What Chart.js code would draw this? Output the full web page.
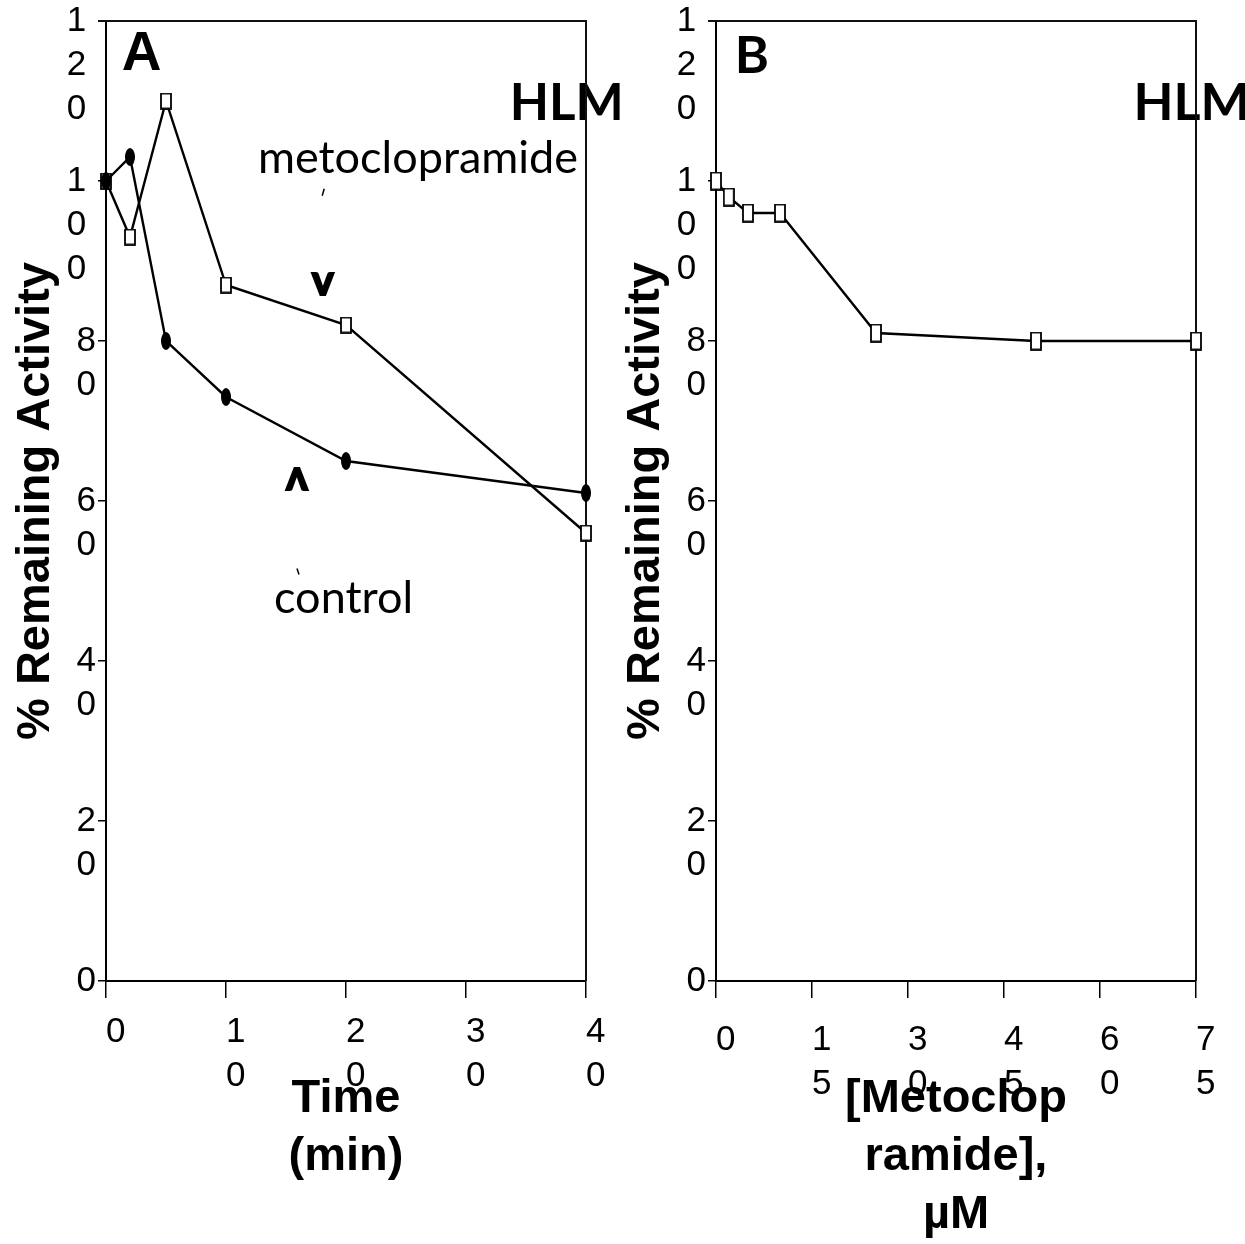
<!DOCTYPE html>
<html>
<head>
<meta charset="utf-8">
<script src="https://cdn.jsdelivr.net/npm/chart.js@4.4.1/dist/chart.umd.min.js"></script>
<style>
  html, body { margin: 0; padding: 0; background: #fff; }
  #wrap { position: relative; width: 1245px; height: 1244px; overflow: hidden; }
  .panel { position: absolute; top: 0; height: 1244px; }
  #panelA { left: 0; width: 620px; }
  #panelB { left: 610px; width: 635px; }
</style>
</head>
<body>
<div id="wrap">
  <div class="panel" id="panelA"><canvas id="chartA"></canvas></div>
  <div class="panel" id="panelB"><canvas id="chartB"></canvas></div>
</div>
<script>
// Panel A - time course (min)
const timeMin = [0, 2, 5, 10, 20, 40];
const controlActivity = [100, 103, 80, 73, 65, 61];
const metoActivity = [100, 93, 110, 87, 82, 56];

// Panel B - concentration (uM)
const metoConc = [0, 2, 5, 10, 25, 50, 75];
const concActivity = [100, 98, 96, 96, 81, 80, 80];

// tick values
const yTicks = [0, 20, 40, 60, 80, 100, 120];
const timeTicks = [0, 10, 20, 30, 40];
const concTicks = [0, 15, 30, 45, 60, 75];

const LABEL_FONT = { family: '"Liberation Sans", Arial, sans-serif', size: 35, lineHeight: 1.26 };
const TITLE_FONT = { family: '"Liberation Sans", Arial, sans-serif', size: 47, weight: 'bold', lineHeight: 1.234 };

// text placed in data coordinates
const notesA = [
  { text: 'A', x: 2.97, y: 115.75, font: 'bold 55px "Liberation Sans"', base: 'middle' },
  { text: 'HLM', x: 38.4, y: 109.7, font: 'bold 51px Lato', base: 'middle' },
  { text: 'metoclopramide', x: 26, y: 101, font: '45px Lato', base: 'alphabetic' },
  { text: 'v', x: 18.08, y: 85.75, font: 'bold 42px Lato', base: 'alphabetic', heavy: true },
  { text: 'v', x: 15.9, y: 64.1, font: 'bold 42px Lato', base: 'alphabetic', heavy: true, flip: true },
  { text: 'control', x: 19.8, y: 46, font: '45px Lato', base: 'alphabetic' }
];
const strokesA = [
  { x: 18.1, y: 98.6, dx: 2, dy: -7 },
  { x: 16.0, y: 51.2, dx: 2, dy: 6 }
];
const notesB = [
  { text: 'B', x: 5.6, y: 115.6, font: 'bold 52px Lato', base: 'middle' },
  { text: 'HLM', x: 74.3, y: 109.7, font: 'bold 52px Lato', base: 'middle' }
];

function makeBox(w, h) {
  const c = document.createElement('canvas');
  c.width = w + 2; c.height = h + 2;
  const g = c.getContext('2d');
  g.fillStyle = '#fff';
  g.fillRect(1, 1, w, h);
  g.strokeStyle = '#000';
  g.lineWidth = 1.8;
  g.strokeRect(1, 1, w, h);
  return c;
}

function makeDot(w, h) {
  const c = document.createElement('canvas');
  c.width = w; c.height = h;
  const g = c.getContext('2d');
  g.fillStyle = '#000';
  g.beginPath();
  g.ellipse(w / 2, h / 2, w / 2, h / 2, 0, 0, Math.PI * 2);
  g.fill();
  return c;
}

const boxA = makeBox(10, 15);
const dotA = makeDot(10, 18);
const boxB = makeBox(10, 17);

// digits stacked one per line, first digit level with the tick
function stackedY(value) {
  const chars = String(value).split('');
  const lines = chars.map(c => (chars.length > 2 ? c + ' ' : c));
  return Array(chars.length - 1).fill('').concat(lines);
}

function stackedX(value) {
  return String(value).split('');
}

const notesPlugin = {
  id: 'notes',
  beforeDatasetsDraw(chart, args, opts) {
    const { ctx, chartArea: a, scales: { x, y } } = chart;
    ctx.save();
    ctx.fillStyle = '#000';
    ctx.strokeStyle = '#000';
    ctx.textAlign = 'center';
    (opts.notes || []).forEach(n => {
      const px = x.getPixelForValue(n.x);
      const py = y.getPixelForValue(n.y);
      ctx.font = n.font;
      ctx.textBaseline = n.base;
      ctx.save();
      ctx.translate(px, py);
      if (n.flip) ctx.rotate(Math.PI);
      ctx.fillText(n.text, 0, 0);
      if (n.heavy) {
        ctx.lineWidth = 2;
        ctx.lineJoin = 'miter';
        ctx.strokeText(n.text, 0, 0);
      }
      ctx.restore();
    });
    ctx.lineWidth = 1.5;
    (opts.strokes || []).forEach(s => {
      const px = x.getPixelForValue(s.x);
      const py = y.getPixelForValue(s.y);
      ctx.beginPath();
      ctx.moveTo(px - s.dx / 2, py - s.dy / 2);
      ctx.lineTo(px + s.dx / 2, py + s.dy / 2);
      ctx.stroke();
    });
    // top and right sides of the plot frame
    ctx.strokeStyle = '#111';
    ctx.lineWidth = 2;
    ctx.beginPath();
    ctx.moveTo(a.left - 8, a.top);
    ctx.lineTo(a.right, a.top);
    ctx.lineTo(a.right, a.bottom);
    ctx.stroke();
    ctx.restore();
  }
};

function buildChart(canvasId, cfg) {
  return new Chart(document.getElementById(canvasId), {
    type: 'line',
    data: { datasets: cfg.datasets },
    options: {
      responsive: true,
      maintainAspectRatio: false,
      animation: false,
      events: [],
      layout: { padding: { left: 0, top: 21, right: cfg.padRight, bottom: 0 } },
      elements: { line: { tension: 0 } },
      scales: {
        x: {
          type: 'linear',
          min: cfg.xMin,
          max: cfg.xMax,
          afterBuildTicks: s => { s.ticks = cfg.xTicks.map(v => ({ value: v })); },
          afterFit: s => { s.height = 263; s.paddingLeft = 0; s.paddingRight = 0; },
          ticks: {
            autoSkip: false,
            maxRotation: 0,
            minRotation: 0,
            align: 'start',
            padding: cfg.xLabelPad,
            color: '#000',
            font: LABEL_FONT,
            callback: v => stackedX(v)
          },
          grid: { drawOnChartArea: false, tickLength: 17, color: '#000', lineWidth: 1.5 },
          border: { color: '#000', width: 2 },
          title: {
            display: true,
            text: cfg.xTitle,
            color: '#000',
            font: TITLE_FONT,
            padding: { top: 0, bottom: cfg.xTitlePad }
          }
        },
        y: {
          type: 'linear',
          min: 0,
          max: 120,
          afterBuildTicks: s => { s.ticks = yTicks.map(v => ({ value: v })); },
          afterFit: s => { s.width = 106; s.paddingTop = 0; s.paddingBottom = 0; },
          ticks: {
            autoSkip: false,
            padding: 2,
            color: '#000',
            font: LABEL_FONT,
            callback: v => stackedY(v)
          },
          grid: { drawOnChartArea: false, tickLength: 8, color: '#000', lineWidth: 1.5 },
          border: { color: '#000', width: 2 },
          title: {
            display: true,
            text: '% Remaining Activity',
            color: '#000',
            font: TITLE_FONT,
            padding: { top: 7, bottom: 0 }
          }
        }
      },
      plugins: {
        legend: { display: false },
        tooltip: { enabled: false },
        notes: { notes: cfg.notes, strokes: cfg.strokes }
      }
    },
    plugins: [notesPlugin]
  });
}

buildChart('chartA', {
  xMin: 0, xMax: 40, xTicks: timeTicks, padRight: 34, xLabelPad: 12,
  xTitle: ['Time', '(min)'], xTitlePad: 58,
  notes: notesA, strokes: strokesA,
  datasets: [
    {
      label: 'control',
      data: timeMin.map((t, i) => ({ x: t, y: controlActivity[i] })),
      borderColor: '#000', borderWidth: 2.4,
      pointStyle: dotA, pointRadius: 5, clip: false
    },
    {
      label: 'metoclopramide',
      data: timeMin.map((t, i) => ({ x: t, y: metoActivity[i] })),
      borderColor: '#000', borderWidth: 2.4,
      pointStyle: boxA, pointRadius: 5, clip: false
    }
  ]
});

buildChart('chartB', {
  xMin: 0, xMax: 75, xTicks: concTicks, padRight: 49, xLabelPad: 20,
  xTitle: ['[Metoclop', 'ramide],', '\u00b5M'], xTitlePad: 0,
  notes: notesB, strokes: [],
  datasets: [
    {
      label: 'metoclopramide',
      data: metoConc.map((c, i) => ({ x: c, y: concActivity[i] })),
      borderColor: '#000', borderWidth: 2.4,
      pointStyle: boxB, pointRadius: 5, clip: false
    }
  ]
});
</script>
</body>
</html>
